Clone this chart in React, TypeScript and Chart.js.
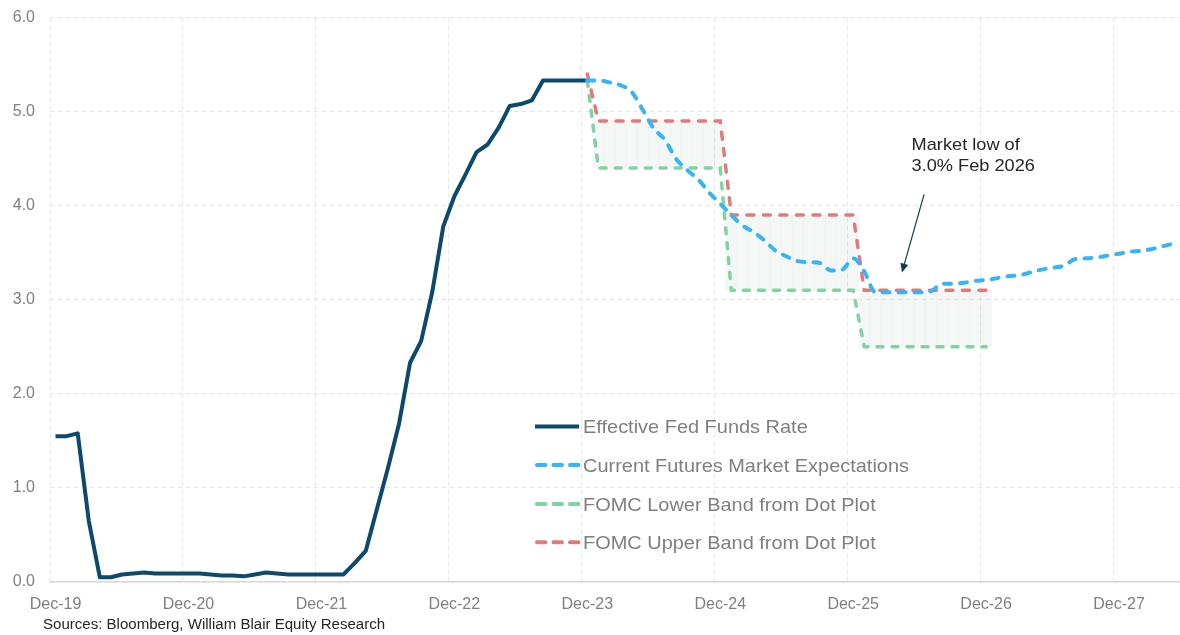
import React, { useEffect, useRef } from 'react';
import { Chart, registerables } from 'chart.js';

Chart.register(...registerables);

// ---- Data ----
const monthNames = ['Jan', 'Feb', 'Mar', 'Apr', 'May', 'Jun', 'Jul', 'Aug', 'Sep', 'Oct', 'Nov', 'Dec'];
const monthCount = 102; // Dec-19 .. May-28
const months: string[] = [];
for (let k = 0; k < monthCount; k++) {
  const m = (11 + k) % 12;
  const y = 2019 + Math.floor((11 + k) / 12);
  months.push(`${monthNames[m]}-${String(y).slice(2)}`);
}

const xTickLabels = ['Dec-19', 'Dec-20', 'Dec-21', 'Dec-22', 'Dec-23', 'Dec-24', 'Dec-25', 'Dec-26', 'Dec-27'];

// Effective Fed Funds Rate, Dec-19 .. Dec-23
const effr = [
  1.55, 1.55, 1.58, 0.65, 0.05, 0.05, 0.08, 0.09, 0.10, 0.09, 0.09, 0.09,
  0.09, 0.09, 0.08, 0.07, 0.07, 0.06, 0.08, 0.10, 0.09, 0.08, 0.08, 0.08,
  0.08, 0.08, 0.08, 0.20, 0.33, 0.77, 1.21, 1.68, 2.33, 2.56, 3.08, 3.78,
  4.10, 4.33, 4.57, 4.65, 4.83, 5.06, 5.08, 5.12, 5.33, 5.33, 5.33, 5.33,
  5.33,
];

// Current futures market expectations, Dec-23 .. May-28
const futuresStart = 48;
const futures = [
  5.33, 5.33, 5.31, 5.28, 5.21, 5.02, 4.82, 4.70, 4.50, 4.38, 4.28, 4.14,
  4.02, 3.90, 3.79, 3.72, 3.63, 3.52, 3.46, 3.41, 3.40, 3.39, 3.31, 3.32,
  3.44, 3.30, 3.08, 3.08, 3.08, 3.08, 3.08, 3.09, 3.17, 3.17, 3.18, 3.20,
  3.21, 3.23, 3.25, 3.26, 3.29, 3.32, 3.34, 3.36, 3.43, 3.44, 3.45, 3.47,
  3.49, 3.51, 3.52, 3.54, 3.57, 3.60,
];

// FOMC dot plot bands, Dec-23 .. Dec-26
const bandStart = 48;
const fomcLower = [
  5.33,
  4.4, 4.4, 4.4, 4.4, 4.4, 4.4, 4.4, 4.4, 4.4, 4.4, 4.4, 4.4,
  3.1, 3.1, 3.1, 3.1, 3.1, 3.1, 3.1, 3.1, 3.1, 3.1, 3.1, 3.1,
  2.5, 2.5, 2.5, 2.5, 2.5, 2.5, 2.5, 2.5, 2.5, 2.5, 2.5, 2.5,
];
const fomcUpper = [
  5.4,
  4.9, 4.9, 4.9, 4.9, 4.9, 4.9, 4.9, 4.9, 4.9, 4.9, 4.9, 4.9,
  3.9, 3.9, 3.9, 3.9, 3.9, 3.9, 3.9, 3.9, 3.9, 3.9, 3.9, 3.9,
  3.1, 3.1, 3.1, 3.1, 3.1, 3.1, 3.1, 3.1, 3.1, 3.1, 3.1, 3.1,
];

const legendItems = [
  { label: 'Effective Fed Funds Rate', color: '#0b4a6c', dashed: false },
  { label: 'Current Futures Market Expectations', color: '#35b5f5', dashed: true },
  { label: 'FOMC Lower Band from Dot Plot', color: '#7fd4a2', dashed: true },
  { label: 'FOMC Upper Band from Dot Plot', color: '#e07b7b', dashed: true },
];

const annotationLines = ['Market low of', '3.0% Feb 2026'];
const sourceText = 'Sources: Bloomberg, William Blair Equity Research';

// ---- Helpers ----
const FONT = '"Liberation Sans", Arial, Helvetica, sans-serif';

function pad(start: number, values: (number | null)[]): (number | null)[] {
  const out: (number | null)[] = new Array(monthCount).fill(null);
  values.forEach((v, i) => {
    out[start + i] = v;
  });
  return out;
}

function drawText(ctx: CanvasRenderingContext2D, text: string, x: number, y: number, size: number, color: string, sx: number) {
  ctx.save();
  ctx.translate(x, y);
  ctx.scale(sx, 1);
  ctx.font = `${size}px ${FONT}`;
  ctx.fillStyle = color;
  ctx.textAlign = 'left';
  ctx.textBaseline = 'alphabetic';
  ctx.fillText(text, 0, 0);
  ctx.restore();
}

const overlayPlugin = {
  id: 'overlay',
  afterDraw(chart: any) {
    const ctx: CanvasRenderingContext2D = chart.ctx;
    const xs = chart.scales.x;
    const ys = chart.scales.y;
    const px = (i: number) => {
      const p0 = xs.getPixelForValue(0);
      const p1 = xs.getPixelForValue(1);
      return p0 + i * (p1 - p0);
    };

    // Legend
    const rows = [426.5, 465, 504, 542.3];
    legendItems.forEach((it, k) => {
      const y = rows[k];
      ctx.save();
      ctx.strokeStyle = it.color;
      ctx.lineWidth = 4;
      if (it.dashed) {
        ctx.lineCap = 'round';
        ctx.setLineDash([8.5, 8]);
        ctx.beginPath();
        ctx.moveTo(537, y);
        ctx.lineTo(579, y);
        ctx.stroke();
      } else {
        ctx.lineCap = 'butt';
        ctx.beginPath();
        ctx.moveTo(535, y);
        ctx.lineTo(579, y);
        ctx.stroke();
      }
      ctx.restore();
      drawText(ctx, it.label, 583, y + 6.8, 19, '#7f7f7f', 1.05);
    });

    // Annotation arrow
    const tailX = px(78.4);
    const tailY = ys.getPixelForValue(4.12);
    const tipX = px(76.4);
    const tipY = ys.getPixelForValue(3.29);
    const ang = Math.atan2(tipY - tailY, tipX - tailX);
    const headLen = 9;
    const headW = 4;
    ctx.save();
    ctx.strokeStyle = '#0d3c5a';
    ctx.fillStyle = '#0d3c5a';
    ctx.lineWidth = 1.2;
    ctx.beginPath();
    ctx.moveTo(tailX, tailY);
    ctx.lineTo(tipX - Math.cos(ang) * headLen * 0.8, tipY - Math.sin(ang) * headLen * 0.8);
    ctx.stroke();
    ctx.beginPath();
    ctx.moveTo(tipX, tipY);
    ctx.lineTo(tipX - Math.cos(ang) * headLen - Math.sin(ang) * headW, tipY - Math.sin(ang) * headLen + Math.cos(ang) * headW);
    ctx.lineTo(tipX - Math.cos(ang) * headLen + Math.sin(ang) * headW, tipY - Math.sin(ang) * headLen - Math.cos(ang) * headW);
    ctx.closePath();
    ctx.fill();
    ctx.restore();

    drawText(ctx, annotationLines[0], tailX - 12.5, tailY - 44, 17, '#262626', 1.07);
    drawText(ctx, annotationLines[1], tailX - 12.5, tailY - 23, 17, '#262626', 1.07);

    // Sources
    drawText(ctx, sourceText, 43, 629, 14, '#262626', 1.075);
  },
};

export default function App() {
  const canvasRef = useRef<HTMLCanvasElement | null>(null);

  useEffect(() => {
    document.body.style.margin = '0';
    const canvas = canvasRef.current;
    if (!canvas) return;

    const bandData = months.map((_, i) => {
      const k = i - bandStart;
      if (k < 1 || k >= fomcLower.length) return null;
      return [fomcLower[k], fomcUpper[k]] as [number, number];
    });

    const chart = new Chart(canvas, {
      type: 'line',
      data: {
        labels: months,
        datasets: [
          {
            type: 'bar',
            label: 'Band',
            data: bandData as any,
            backgroundColor: 'rgba(205,218,212,0.22)',
            borderWidth: 0,
            barPercentage: 1,
            categoryPercentage: 1,
            order: 4,
          } as any,
          {
            label: legendItems[0].label,
            data: pad(0, effr),
            borderColor: legendItems[0].color,
            borderWidth: 4,
            pointRadius: 0,
            tension: 0,
            borderJoinStyle: 'round',
            order: 3,
          },
          {
            label: legendItems[2].label,
            data: pad(bandStart, fomcLower),
            borderColor: legendItems[2].color,
            borderWidth: 3.5,
            borderDash: [6, 9],
            borderCapStyle: 'round',
            pointRadius: 0,
            tension: 0,
            order: 2,
          },
          {
            label: legendItems[3].label,
            data: pad(bandStart, fomcUpper),
            borderColor: legendItems[3].color,
            borderWidth: 3.5,
            borderDash: [7, 9.5],
            borderCapStyle: 'round',
            pointRadius: 0,
            tension: 0,
            order: 1,
          },
          {
            label: legendItems[1].label,
            data: pad(futuresStart, futures),
            borderColor: legendItems[1].color,
            borderWidth: 4,
            borderDash: [7, 9],
            borderCapStyle: 'round',
            pointRadius: 0,
            cubicInterpolationMode: 'monotone',
            order: 0,
          },
        ],
      },
      options: {
        animation: false,
        responsive: false,
        maintainAspectRatio: false,
        devicePixelRatio: 1,
        layout: { padding: { top: 17.5, left: 0, right: 0, bottom: 0 } },
        plugins: {
          legend: { display: false },
          tooltip: { enabled: false },
        },
        scales: {
          x: {
            type: 'category',
            offset: true,
            grid: {
              offset: true,
              drawTicks: false,
              lineWidth: 1,
              color: (ctx: any) => (typeof ctx.index === 'number' && ctx.index % 12 === 0 ? '#e4e4e4' : 'rgba(0,0,0,0)'),
            },
            border: { display: true, color: '#d9d9d9', width: 1.5, dash: [4, 4] },
            ticks: {
              autoSkip: false,
              maxRotation: 0,
              minRotation: 0,
              padding: 13,
              color: '#7f7f7f',
              font: { family: FONT, size: 16 },
              callback: (_v: any, idx: number) => (xTickLabels.includes(months[idx]) ? months[idx] : ''),
            },
            afterFit: (s: any) => {
              s.height = 53;
              s.paddingLeft = 0;
              s.paddingRight = 0;
            },
          },
          y: {
            min: 0,
            max: 6,
            grid: { color: '#e4e4e4', drawTicks: false, lineWidth: 1 },
            border: { display: false, dash: [4, 4] },
            ticks: {
              stepSize: 1,
              padding: 15,
              color: '#7f7f7f',
              font: { family: FONT, size: 16 },
              callback: (v: any) => Number(v).toFixed(1),
            },
            afterFit: (s: any) => {
              s.width = 50;
              s.paddingTop = 0;
            },
          },
        },
      },
      plugins: [overlayPlugin],
    });

    return () => {
      chart.destroy();
    };
  }, []);

  return (
    <div style={{ position: 'absolute', left: 0, top: 0, width: 1180, height: 635, background: '#ffffff' }}>
      <canvas ref={canvasRef} width={1180} height={635} style={{ display: 'block' }} />
    </div>
  );
}
